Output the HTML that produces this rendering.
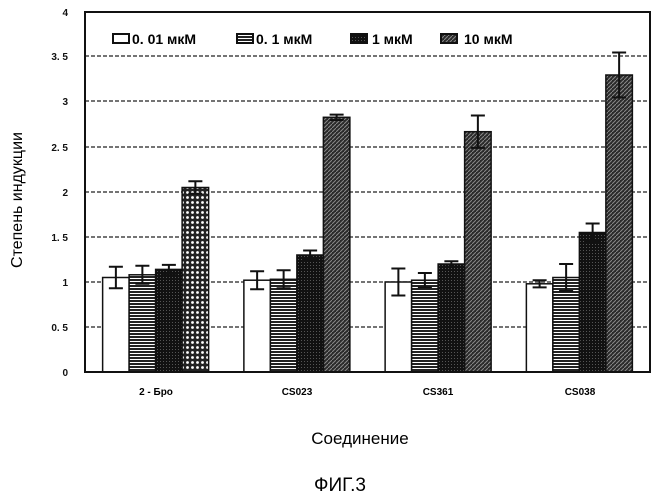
<!DOCTYPE html><html><head><meta charset="utf-8"><style>body{margin:0;background:#fff}svg{display:block}text{font-family:"Liberation Sans",sans-serif;font-weight:bold}</style></head><body>
<svg width="662" height="500" viewBox="0 0 662 500">
<defs>
<pattern id="s" width="4" height="3" patternUnits="userSpaceOnUse"><rect width="4" height="3" fill="#fff"/><rect width="4" height="2" fill="#222"/></pattern>
<pattern id="b" width="3" height="3" patternUnits="userSpaceOnUse"><rect width="3" height="3" fill="#111"/><rect x="1" y="1" width="1" height="1" fill="#555"/></pattern>
<pattern id="c" width="5" height="5" patternUnits="userSpaceOnUse"><rect width="5" height="5" fill="#222"/><circle cx="2.5" cy="2.5" r="1.4" fill="#fff"/></pattern>
<pattern id="d" width="4" height="4" patternUnits="userSpaceOnUse"><rect width="4" height="4" fill="#2a2a2a"/><path d="M0 4L4 0" stroke="#888" stroke-width="1"/></pattern>
</defs>
<g stroke="#222" stroke-width="1.2" stroke-dasharray="4 2">
<line x1="85" y1="56" x2="650" y2="56"/><line x1="85" y1="101" x2="650" y2="101"/><line x1="85" y1="147" x2="650" y2="147"/><line x1="85" y1="192" x2="650" y2="192"/><line x1="85" y1="237" x2="650" y2="237"/><line x1="85" y1="282" x2="650" y2="282"/><line x1="85" y1="327" x2="650" y2="327"/>
</g>
<g font-size="10" text-anchor="end" fill="#111">
<text x="68" y="16">4</text><text x="68" y="60">3. 5</text><text x="68" y="105">3</text><text x="68" y="151">2. 5</text><text x="68" y="196">2</text><text x="68" y="241">1. 5</text><text x="68" y="286">1</text><text x="68" y="331">0. 5</text><text x="68" y="376">0</text>
</g>
<g id="bars"></g>
<rect x="85" y="12" width="565" height="360" fill="none" stroke="#111" stroke-width="2"/>
<g font-size="14">
<rect x="113" y="34" width="16" height="9" fill="#fff" stroke="#111" stroke-width="2"/><text x="132" y="44">0. 01 мкМ</text>
<rect x="237" y="34" width="16" height="9" fill="url(#s)" stroke="#111" stroke-width="2"/><text x="256" y="44">0. 1 мкМ</text>
<rect x="351" y="34" width="16" height="9" fill="url(#b)" stroke="#111" stroke-width="2"/><text x="372" y="44">1 мкМ</text>
<rect x="441" y="34" width="16" height="9" fill="url(#d)" stroke="#111" stroke-width="2"/><text x="464" y="44">10 мкМ</text>
</g>
<g font-size="10" text-anchor="middle"><text x="156" y="395">2 - Бро</text><text x="297" y="395">CS023</text><text x="438" y="395">CS361</text><text x="580" y="395">CS038</text></g>
<text x="360" y="444" font-size="17" text-anchor="middle" style="font-weight:normal">Соединение</text>
<text x="340" y="491" font-size="19" text-anchor="middle" style="font-weight:normal">ФИГ.3</text>
<text transform="translate(22,200) rotate(-90)" font-size="16" text-anchor="middle" style="font-weight:normal">Степень индукции</text>
</svg>
<script>
var d=[[[1.05,.12],[1.08,.1],[1.14,.05],[2.05,.07]],[[1.02,.1],[1.03,.1],[1.3,.05],[2.83,.03]],[[1.0,.15],[1.02,.08],[1.2,.03],[2.67,.18]],[[0.98,.04],[1.05,.15],[1.55,.1],[3.3,.25]]];
var f=["#fff","url(#s)","url(#b)","url(#c)"],f2=["#fff","url(#s)","url(#b)","url(#d)"];
var g=document.getElementById("bars"),h="";
d.forEach(function(gr,i){var c=85+141.25*(i+0.5),x0=c-53;gr.forEach(function(v,j){var x=x0+j*26.5,y=372-v[0]*90,fl=(i==0?f:f2)[j];
h+='<rect x="'+x+'" y="'+y+'" width="26.5" height="'+(372-y)+'" fill="'+fl+'" stroke="#111" stroke-width="1.5"/>';
var cx=x+13.25,t=y-v[1]*90,b=y+v[1]*90;h+='<path d="M'+cx+' '+t+'V'+b+'M'+(cx-7)+' '+t+'H'+(cx+7)+'M'+(cx-7)+' '+b+'H'+(cx+7)+'" stroke="#111" stroke-width="2" fill="none"/>';});});
g.innerHTML=h;
</script>
</body></html>
